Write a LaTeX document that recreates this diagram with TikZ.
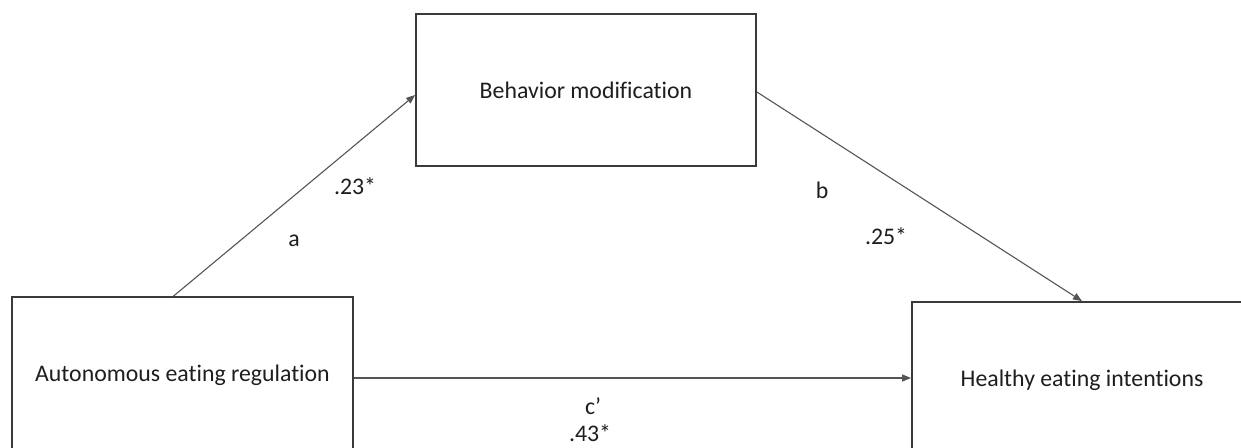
\documentclass[tikz,border=0pt]{standalone}
\usepackage{fontspec}
\setmainfont[Ligatures=NoCommon]{Carlito}
\usetikzlibrary{arrows.meta}
\definecolor{boxline}{HTML}{3A3A3A}
\definecolor{linkline}{HTML}{555555}
\definecolor{ink}{HTML}{1E1E1E}
\tikzset{
  varbox/.style={draw=boxline, line width=1.8pt, fill=white, minimum width=340pt,
    minimum height=156pt, inner sep=0pt, text=ink, font=\fontsize{23.8}{28}\selectfont},
  path/.style={draw=linkline, line width=1.1pt, -{Triangle[length=9pt,width=7pt]}},
  coef/.style={text=ink, inner sep=0pt, font=\fontsize{23.8}{28}\selectfont}
}
\begin{document}
\begin{tikzpicture}[x=1pt,y=-1pt]
  \clip (0,0) rectangle (1241,447);
  \fill[white] (0,0) rectangle (1241,447);

  % variables
  \node[varbox, minimum height=152pt] (beh) at (586,90) {Behavior modification};
  \node[varbox, minimum width=341pt] (auto) at (182.5,375) {Autonomous eating regulation};
  \node[varbox] (heal) at (1082,380) {Healthy eating intentions};

  % paths
  \draw[path] ([xshift=-9pt]auto.north) -- ([yshift=-5pt]beh.west);
  \draw[path] ([yshift=-2pt]beh.east) -- (heal.north);
  \draw[path] ([yshift=-3pt]auto.east) -- ([yshift=-3pt]auto.east -| heal.west);

  % coefficients
  \node[coef] (ca) at (294,241) {a};
  \node[coef] (va) at (355,186) {.23*};
  \node[coef] (cb) at (822,190) {b};
  \node[coef] (vb) at (886,236) {.25*};
  \node[coef] (cc) at (593,406) {c’};
  \node[coef] (vc) at (590,433) {.43*};
\end{tikzpicture}
\end{document}
